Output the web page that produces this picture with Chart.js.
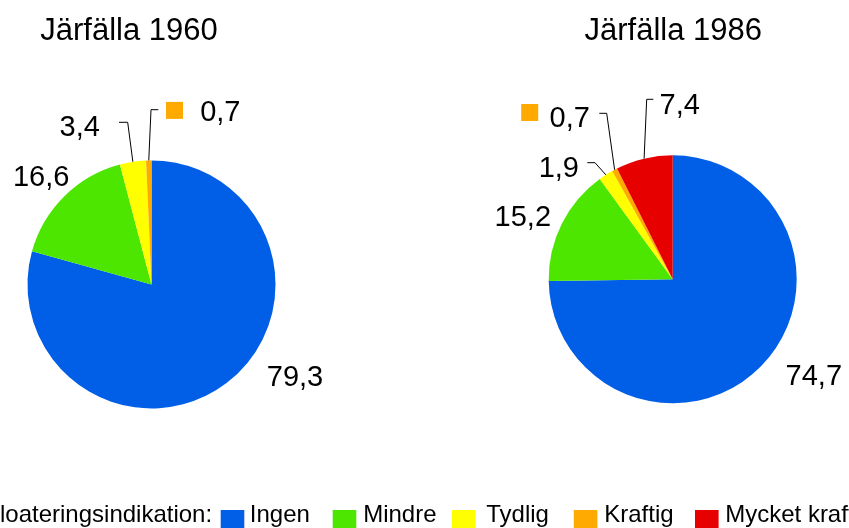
<!DOCTYPE html>
<html><head><meta charset="utf-8">
<script src="https://cdn.jsdelivr.net/npm/chart.js@4.4.1/dist/chart.umd.min.js"></script>
<style>
html,body{margin:0;padding:0;background:#fff;overflow:hidden;}
#wrap{position:relative;width:849px;height:528px;overflow:hidden;}
canvas{position:absolute;left:0;top:0;}
</style></head><body>
<div id="wrap"><canvas id="c1" width="849" height="528"></canvas><canvas id="c2" width="849" height="528"></canvas></div>
<script>
// ---- data ----
const categories = ['Ingen', 'Mindre', 'Tydlig', 'Kraftig', 'Mycket kraftig'];
const values1960 = [79.3, 16.6, 3.4, 0.7, 0];
const values1986 = [74.7, 15.2, 1.9, 0.7, 7.4];
const chartTitles = ['Järfälla 1960', 'Järfälla 1986'];
const legendTitle = 'loateringsindikation:';
const sliceColors = ['#005FE6', '#4CE600', '#FFFF00', '#FFAA00', '#E60000'];

// ---- styling / layout ----
const FONT = '"Liberation Sans", Arial, Helvetica, sans-serif';
const fmt = v => v.toFixed(1).replace('.', ',');

// label layout relative to pie centre: text = [dx, baselineDy]; knee/end = leader line; key = [cx, cy, size]
const layout1960 = [
  { text: [143.5, 101.6] },
  { text: [-110.3, -98.7] },
  { text: [-71.8, -148.4], knee: [-23.8, -162.1], end: [-32.5, -162.1] },
  { text: [68.8, -163.4], knee: [-0.5, -174.7], end: [6.8, -174.7], key: [23, -174, 17] },
  null
];
const layout1986 = [
  { text: [141.1, 105.7] },
  { text: [-149.9, -53.3] },
  { text: [-113.9, -102], knee: [-77.7, -116.6], end: [-85.4, -116.6] },
  { text: [-103, -152.6], knee: [-66, -166], end: [-73.4, -166], key: [-143, -166.8, 17] },
  { text: [7, -165.3], knee: [-26, -180], end: [-19.4, -180] }
];
const legendSquareX = [220.7, 332.7, 452, 573.8, 695];
const legendTextX = [249.8, 363.2, 486.2, 604.2, 725.2];

const pieLabels = {
  id: 'pieLabels',
  afterDatasetsDraw(chart, args, opts) {
    const ctx = chart.ctx;
    const meta = chart.getDatasetMeta(0);
    const ds = chart.data.datasets[0];
    ctx.save();
    ctx.font = opts.fontSize + 'px ' + FONT;
    ctx.textAlign = 'center';
    ctx.textBaseline = 'alphabetic';
    meta.data.forEach((arc, i) => {
      const v = ds.data[i];
      const L = opts.layout[i];
      if (!v || !L) return;
      const p = arc.getProps(['x', 'y', 'startAngle', 'endAngle', 'outerRadius'], true);
      const mid = (p.startAngle + p.endAngle) / 2;
      if (L.knee) {
        ctx.beginPath();
        ctx.moveTo(p.x + p.outerRadius * Math.cos(mid), p.y + p.outerRadius * Math.sin(mid));
        ctx.lineTo(p.x + L.knee[0], p.y + L.knee[1]);
        ctx.lineTo(p.x + L.end[0], p.y + L.end[1]);
        ctx.strokeStyle = '#000';
        ctx.lineWidth = 1;
        ctx.stroke();
      }
      if (L.key) {
        const s = L.key[2];
        ctx.fillStyle = ds.backgroundColor[i];
        ctx.fillRect(p.x + L.key[0] - s / 2, p.y + L.key[1] - s / 2, s, s);
      }
      ctx.fillStyle = '#000';
      ctx.fillText(fmt(v), p.x + L.text[0], p.y + L.text[1]);
    });
    // title
    ctx.font = opts.titleSize + 'px ' + FONT;
    ctx.fillStyle = '#000';
    ctx.fillText(opts.title.text, opts.title.x, opts.title.y);
    // legend
    if (opts.legend) {
      const lg = opts.legend;
      ctx.font = lg.size + 'px ' + FONT;
      ctx.textAlign = 'left';
      ctx.fillText(lg.title, lg.titleX, lg.baseline);
      chart.data.labels.forEach((lab, i) => {
        ctx.fillStyle = ds.backgroundColor[i];
        ctx.fillRect(lg.squareX[i], lg.squareTop, lg.squareW, lg.squareH);
        ctx.fillStyle = '#000';
        ctx.fillText(lab, lg.textX[i], lg.baseline);
      });
    }
    ctx.restore();
  }
};

function makePie(id, values, pad, labelLayout, title, legend) {
  return new Chart(document.getElementById(id), {
    type: 'pie',
    data: {
      labels: categories,
      datasets: [{
        data: values,
        backgroundColor: sliceColors,
        borderWidth: 0,
        hoverOffset: 0,
        offset: 0,
        radius: 124
      }]
    },
    options: {
      responsive: false,
      animation: false,
      events: [],
      layout: { padding: pad },
      plugins: {
        legend: { display: false },
        tooltip: { enabled: false },
        title: { display: false },
        pieLabels: { layout: labelLayout, fontSize: 29, titleSize: 31, title: title, legend: legend }
      }
    },
    plugins: [pieLabels]
  });
}

makePie('c1', values1960, { left: 11.5, right: 557.5, top: 144.4, bottom: 103.6 }, layout1960,
  { text: chartTitles[0], x: 129, y: 39.5 }, null);
makePie('c2', values1986, { left: 532.7, right: 36.3, top: 139.3, bottom: 108.7 }, layout1986,
  { text: chartTitles[1], x: 673.3, y: 39.5 },
  { title: legendTitle, titleX: 0, baseline: 522.3, size: 24, squareX: legendSquareX, textX: legendTextX,
    squareTop: 510, squareW: 23.6, squareH: 24 });
</script>
</body></html>
